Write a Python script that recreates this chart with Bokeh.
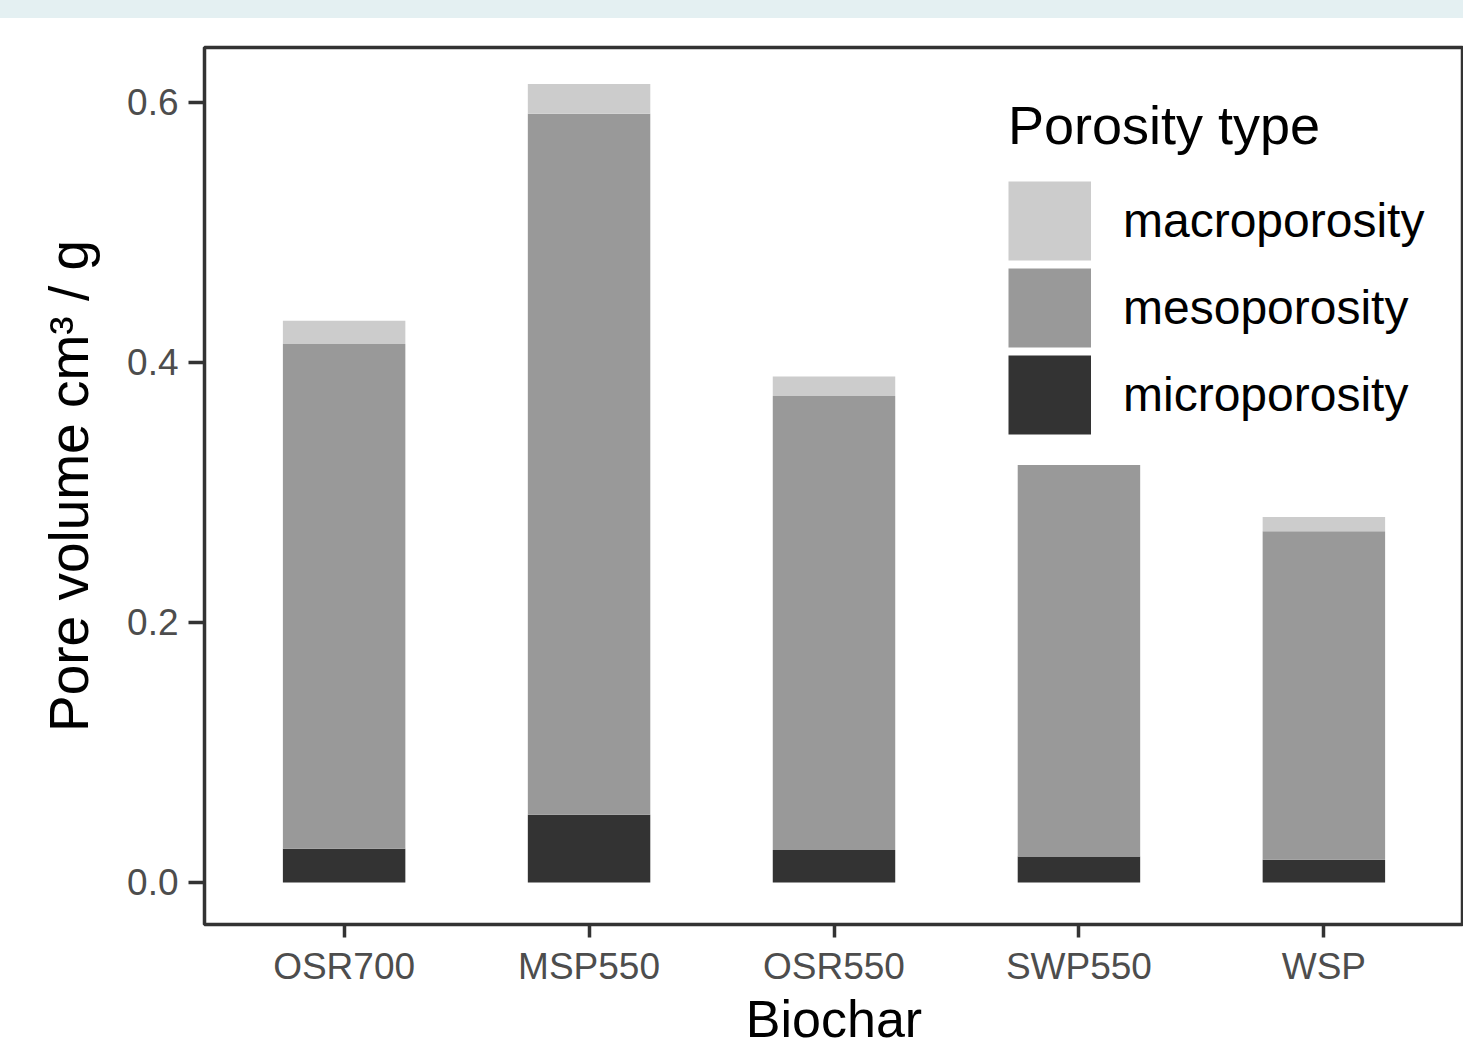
from bokeh.plotting import figure
from bokeh.models import (FactorRange, Range1d, FixedTicker, Legend, LegendItem,
                          Div, ColumnDataSource, PrintfTickFormatter)
from bokeh.layouts import column
from bokeh.embed import file_html
from bokeh.resources import INLINE

# ---- data ----
biochar = ["OSR700", "MSP550", "OSR550", "SWP550", "WSP"]
microporosity = [0.026, 0.052, 0.025, 0.020, 0.0175]
mesoporosity = [0.388, 0.539, 0.349, 0.301, 0.2525]
macroporosity = [0.018, 0.023, 0.015, 0.0, 0.011]

porosity_types = ["microporosity", "mesoporosity", "macroporosity"]
porosity_colors = ["#333333", "#999999", "#CCCCCC"]
y_ticks = [0.0, 0.2, 0.4, 0.6]

source = ColumnDataSource(dict(biochar=biochar,
                               microporosity=microporosity,
                               mesoporosity=mesoporosity,
                               macroporosity=macroporosity))

FONT = "Liberation Sans"

p = figure(x_range=FactorRange(factors=biochar, range_padding=0.028,
                               range_padding_units="percent"),
           y_range=Range1d(-0.0323, 0.642),
           width=1463, height=1034,
           output_backend="svg", toolbar_location=None,
           min_border_left=204, min_border_right=0,
           min_border_top=29, min_border_bottom=128)

renderers = p.vbar_stack(porosity_types, x="biochar", width=0.5,
                         color=porosity_colors, line_color=None, source=source)

# legend keys: full-size square swatches (thick butt-capped line legend glyphs,
# carrying no visible data)
key_renderers = [p.line(x=[biochar[0]], y=[float("nan")], line_color=c,
                        line_width=79, line_cap="butt")
                 for c in porosity_colors]

p.xgrid.grid_line_color = None
p.ygrid.grid_line_color = None
p.background_fill_color = "white"
p.border_fill_color = "white"
p.outline_line_color = "#333333"
p.outline_line_width = 3.5

for ax in (p.xaxis[0], p.yaxis[0]):
    ax.axis_line_color = None
    ax.major_tick_line_color = "#333333"
    ax.major_tick_line_width = 3.5
    ax.major_tick_in = 0
    ax.minor_tick_line_color = None
    ax.major_label_text_font = FONT
    ax.major_label_text_color = "#4D4D4D"
    ax.major_label_text_font_size = "37px"
    ax.axis_label_text_font = FONT
    ax.axis_label_text_font_style = "normal"
    ax.axis_label_text_color = "black"
    ax.axis_label_text_font_size = "55px"

p.xaxis.major_tick_out = 13
p.xaxis.major_label_standoff = 8
p.xaxis.axis_label = "Biochar"
p.xaxis.axis_label_standoff = 0
p.xaxis.axis_label_text_font_size = "52px"

p.yaxis.ticker = FixedTicker(ticks=y_ticks)
p.yaxis.formatter = PrintfTickFormatter(format="%.1f")
p.yaxis.major_tick_out = 16
p.yaxis.major_label_standoff = 10
p.yaxis.axis_label = "Pore volume cm\u00b3 / g"
p.yaxis.axis_label_standoff = 24

items = [LegendItem(label=lab, renderers=[r])
         for lab, r in zip(porosity_types[::-1], key_renderers[::-1])]
legend = Legend(items=items, location=(804, 486),
                title="Porosity type",
                title_text_font=FONT, title_text_font_size="54px",
                title_text_font_style="normal", title_text_color="black",
                title_standoff=21,
                label_text_font=FONT, label_text_font_size="48px",
                label_text_color="black",
                glyph_width=83, glyph_height=87, spacing=0,
                label_standoff=32, padding=0, margin=0,
                border_line_color=None, background_fill_alpha=0)
p.add_layout(legend)

band = Div(text="", width=1463, height=18, margin=0,
           styles={"background-color": "#E4F0F2"})

layout = column(band, p, spacing=0)

open("out.html", "w").write(file_html(layout, INLINE))
